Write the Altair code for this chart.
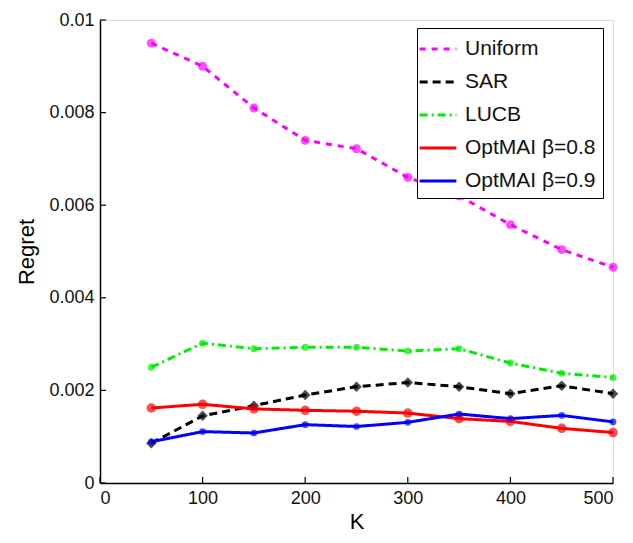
import altair as alt
import pandas as pd

K = [50, 100, 150, 200, 250, 300, 350, 400, 450, 500]
uniform = [0.0095, 0.0090, 0.0081, 0.0074, 0.00722, 0.0066, 0.0062, 0.00558, 0.00504, 0.00466]
sar = [0.00086, 0.00145, 0.00167, 0.0019, 0.00208, 0.00217, 0.00208, 0.00193, 0.0021, 0.00193]
lucb = [0.0025, 0.00302, 0.0029, 0.00293, 0.00293, 0.00285, 0.0029, 0.00259, 0.00237, 0.00228]
opt08 = [0.00162, 0.0017, 0.0016, 0.00157, 0.00155, 0.00151, 0.00139, 0.00133, 0.00118, 0.00109]
opt09 = [0.00089, 0.00111, 0.00108, 0.00126, 0.00122, 0.00131, 0.00149, 0.00139, 0.00146, 0.00132]

series = ["Uniform", "SAR", "LUCB", "OptMAI β=0.8", "OptMAI β=0.9"]
colors = ["#ff00ff", "#000000", "#00ee00", "#ff0000", "#0000ff"]
dashes = [[6, 6], [8, 5], [8, 4, 2, 4], [1, 0], [1, 0]]
shapes = ["circle", "diamond", "circle", "circle", "circle"]
sizes = [80, 110, 50, 90, 45]
x_ticks = [0, 100, 200, 300, 400, 500]
y_ticks = [0, 0.002, 0.004, 0.006, 0.008, 0.01]

rows = []
for name, vals in zip(series, [uniform, sar, lucb, opt08, opt09]):
    for k, v in zip(K, vals):
        rows.append({"K": k, "Regret": v, "Method": name})
df = pd.DataFrame(rows)

W, H = 513, 463
FONT = "Liberation Sans"

xs = alt.Scale(domain=[0, 500], nice=False)
ys = alt.Scale(domain=[0, 0.01], nice=False)
cscale = alt.Scale(domain=series, range=colors)


def leg():
    return alt.Legend(title=None, orient="none", legendX=317, legendY=8,
                      labelFontSize=21, labelFont=FONT, labelColor="#111",
                      symbolSize=600, symbolStrokeWidth=3, rowPadding=9,
                      strokeColor="black", padding=7, fillColor="white",
                      symbolType="M-1.5,0H1.5", labelOffset=13, labelLimit=300)


base = alt.Chart(df)
lines = base.mark_line(strokeWidth=3).encode(
    x=alt.X("K:Q", scale=xs, axis=alt.Axis(title="K", values=x_ticks, grid=False, ticks=False,
                                            labelFontSize=18, titleFontSize=22, labelFont=FONT,
                                            titleFont=FONT, titleFontWeight="normal", domainColor="black",
                                            domainWidth=1.5, labelColor="#111", labelPadding=6, titlePadding=4)),
    y=alt.Y("Regret:Q", scale=ys, axis=alt.Axis(title="Regret", values=y_ticks, format="~g", grid=False,
                                                 ticks=False, labelFontSize=18, titleFontSize=22,
                                                 labelFont=FONT, titleFont=FONT, titleFontWeight="normal",
                                                 domainColor="black", domainWidth=1.5, labelColor="#111",
                                                 labelPadding=6, titlePadding=10)),
    color=alt.Color("Method:N", scale=cscale, legend=leg()),
    strokeDash=alt.StrokeDash("Method:N", scale=alt.Scale(domain=series, range=dashes), legend=leg()),
)

point_layers = []
for name, c, s, sz in zip(series, colors, shapes, sizes):
    point_layers.append(
        base.transform_filter(alt.datum.Method == name).mark_point(
            filled=True, color=c, shape=s, size=sz).encode(x="K:Q", y="Regret:Q")
    )

xt = alt.Chart(pd.DataFrame({"t": x_ticks})).mark_rule(color="black", strokeWidth=1.2).encode(
    x=alt.X("t:Q", scale=xs), y=alt.value(H), y2=alt.value(H - 6))
yt = alt.Chart(pd.DataFrame({"t": y_ticks})).mark_rule(color="black", strokeWidth=1.2).encode(
    y=alt.Y("t:Q", scale=ys), x=alt.value(0), x2=alt.value(6))

chart = alt.layer(lines, *point_layers, xt, yt).properties(
    width=W, height=H, padding={"left": 92, "top": 12, "right": 12, "bottom": 52},
    autosize=alt.AutoSizeParams(type="none"),
).configure_view(stroke=None).configure(background="white")

chart.save("out.html", embed_options={"renderer": "svg", "actions": False})
